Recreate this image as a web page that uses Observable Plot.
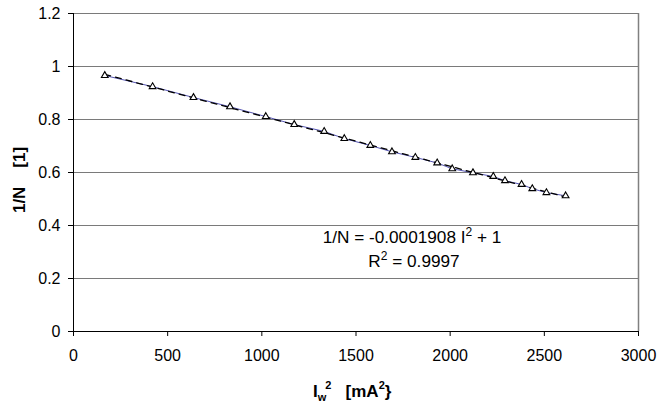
<!DOCTYPE html>
<html>
<head>
<meta charset="utf-8">
<script src="https://cdn.jsdelivr.net/npm/d3@7"></script>
<script src="https://cdn.jsdelivr.net/npm/@observablehq/plot@0.6"></script>
<style>
  html, body { margin: 0; padding: 0; background: #fff; }
  #chart { width: 657px; height: 404px; }
</style>
</head>
<body>
<div id="chart"></div>
<script>
// Data
const iw2 = [166, 420, 637, 831, 1021, 1172, 1331, 1438, 1576, 1691, 1815, 1931, 2011, 2121, 2229, 2291, 2379, 2436, 2511, 2613];
const invN = [0.966, 0.924, 0.883, 0.848, 0.811, 0.781, 0.755, 0.728, 0.702, 0.678, 0.657, 0.636, 0.614, 0.599, 0.585, 0.569, 0.555, 0.539, 0.524, 0.512];
const xTicks = [0, 500, 1000, 1500, 2000, 2500, 3000];
const yTicks = [0, 0.2, 0.4, 0.6, 0.8, 1, 1.2];

const data = iw2.map((x, i) => ({x, y: invN[i]}));

const plot = Plot.plot({
  width: 657,
  height: 404,
  marginLeft: 73,
  marginRight: 19,
  marginTop: 13,
  marginBottom: 73,
  style: {fontFamily: "'Liberation Sans', Arial, sans-serif", fontSize: "16px", color: "#000", background: "#fff"},
  x: {domain: [0, 3000], ticks: xTicks, label: null},
  y: {domain: [0, 1.2], ticks: yTicks, label: null},
  marks: [
    Plot.gridY(yTicks.filter(d => d > 0), {stroke: "#7a7a7a", strokeOpacity: 1, strokeWidth: 1.2}),
    Plot.ruleX([3000], {stroke: "#808080", strokeWidth: 1.5}),
    Plot.axisX({ticks: xTicks, tickSize: 5, tickPadding: 13, tickFormat: d => String(d), stroke: "#000"}),
    Plot.axisY({ticks: yTicks, tickSize: 5, tickPadding: 8, tickFormat: d => String(Math.round(d * 10) / 10), stroke: "#000"}),
    Plot.ruleY([0], {stroke: "#000", strokeWidth: 1}),
    Plot.ruleX([0], {stroke: "#000", strokeWidth: 1}),
    Plot.line(data, {x: "x", y: "y", stroke: "#2a2aa0", strokeWidth: 0.8}),
    Plot.linearRegressionY(data, {x: "x", y: "y", stroke: "#000", strokeWidth: 1.3, strokeDasharray: "6,5", ci: 0}),
    Plot.dot(data, {x: "x", y: "y", symbol: "triangle", r: 2.5, stroke: "#000", strokeWidth: 1.1, fill: "#fff"})
  ]
});

document.getElementById("chart").appendChild(plot);

const svg = d3.select(plot);
const font = "'Liberation Sans', Arial, sans-serif";

// X axis title: I_w^2   [mA^2}
const xt = svg.append("text")
  .attr("x", 313).attr("y", 397).attr("text-anchor", "start")
  .attr("font-family", font).attr("font-size", 17).attr("font-weight", "bold").attr("fill", "#000");
xt.append("tspan").text("I");
xt.append("tspan").attr("font-size", 11).attr("dy", 4).text("w");
xt.append("tspan").attr("font-size", 11).attr("dy", -12).attr("dx", -1).text("2");
xt.append("tspan").attr("dy", 8).text("\u00a0\u00a0\u00a0[mA");
xt.append("tspan").attr("font-size", 11).attr("dy", -8).text("2");
xt.append("tspan").attr("dy", 8).text("}");

// Y axis title
svg.append("text")
  .attr("transform", "translate(25,180) rotate(-90)")
  .attr("text-anchor", "middle")
  .attr("font-family", font).attr("font-size", 17).attr("font-weight", "bold").attr("fill", "#000")
  .text("1/N\u00a0\u00a0\u00a0\u00a0[1]");

// Trendline equation
const e1 = svg.append("text")
  .attr("x", 412).attr("y", 243).attr("text-anchor", "middle")
  .attr("font-family", font).attr("font-size", 17.2).attr("fill", "#000");
e1.append("tspan").text("1/N = -0.0001908 I");
e1.append("tspan").attr("font-size", 12).attr("dy", -7).text("2");
e1.append("tspan").attr("dy", 7).text(" + 1");

const e2 = svg.append("text")
  .attr("x", 414).attr("y", 267).attr("text-anchor", "middle")
  .attr("font-family", font).attr("font-size", 17.2).attr("fill", "#000");
e2.append("tspan").text("R");
e2.append("tspan").attr("font-size", 12).attr("dy", -7).text("2");
e2.append("tspan").attr("dy", 7).text(" = 0.9997");
</script>
</body>
</html>
